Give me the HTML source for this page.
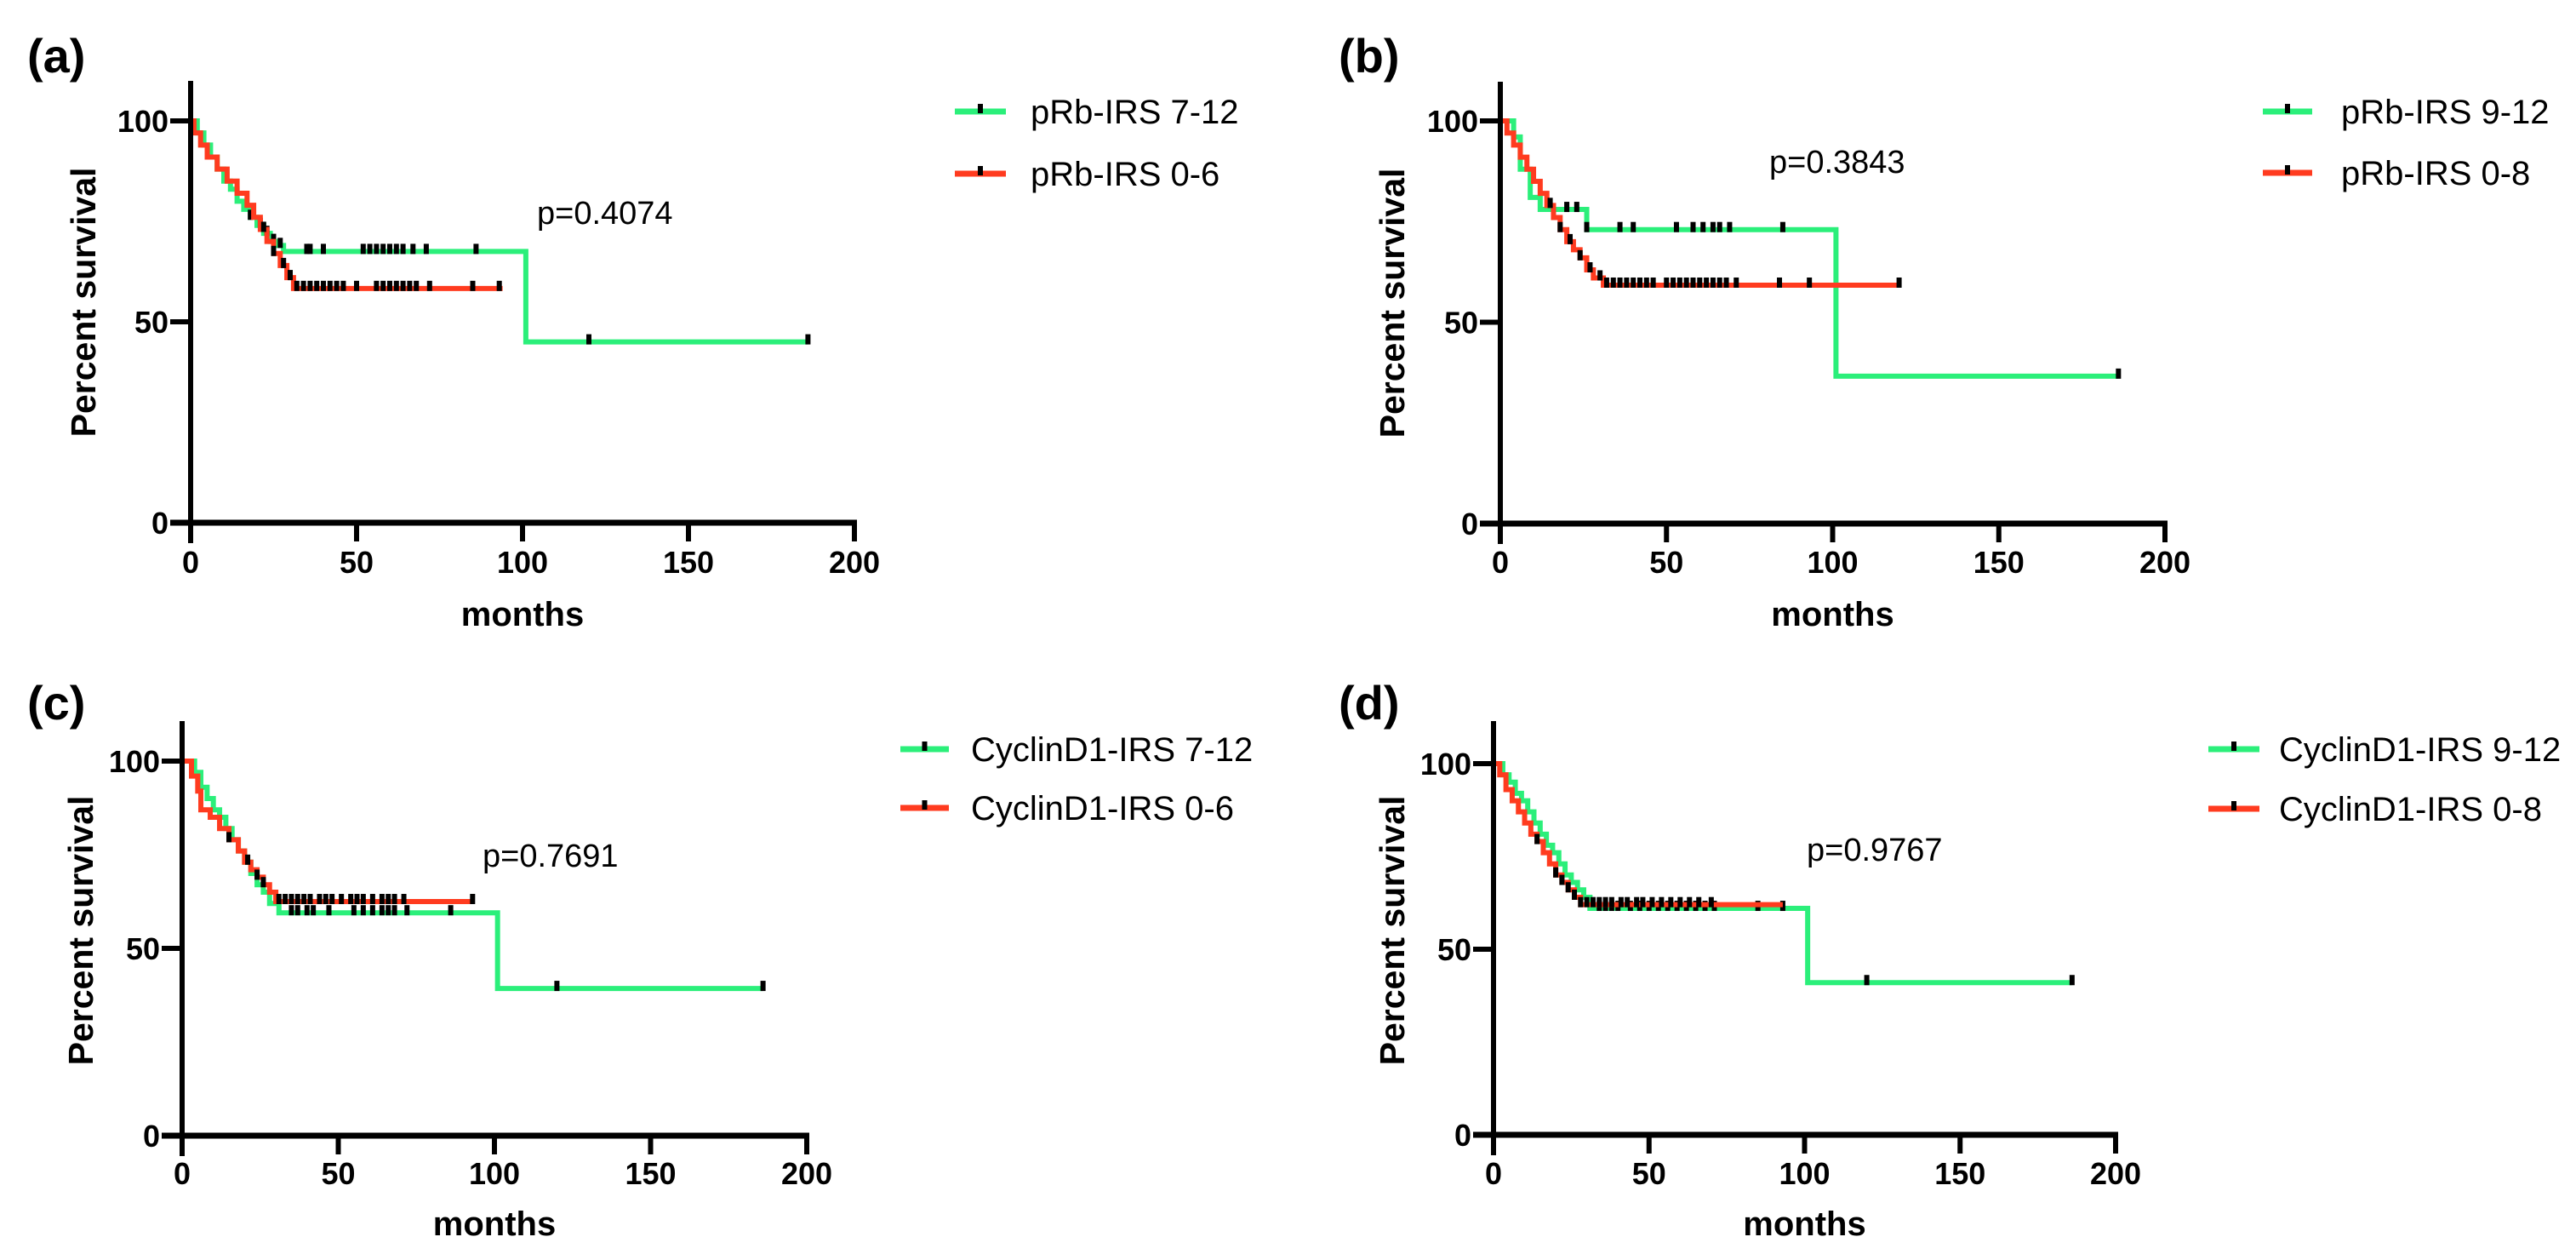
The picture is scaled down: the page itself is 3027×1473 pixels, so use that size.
<!DOCTYPE html>
<html><head><meta charset="utf-8">
<style>
html,body{margin:0;padding:0;background:#fff;}
svg{display:block;font-family:"Liberation Sans",sans-serif;}
</style></head>
<body>
<svg id="fig" width="3027" height="1473" viewBox="0 0 3027 1473" xmlns="http://www.w3.org/2000/svg"></svg>
<script>
// ---------- data ----------
const xTicks = [0, 50, 100, 150, 200];
const yTicks = [0, 50, 100];
const panelLetters = ['(a)', '(b)', '(c)', '(d)'];
const pValues = ['p=0.4074', 'p=0.3843', 'p=0.7691', 'p=0.9767'];
const legendHigh = ['pRb-IRS 7-12', 'pRb-IRS 9-12', 'CyclinD1-IRS 7-12', 'CyclinD1-IRS 9-12'];
const legendLow = ['pRb-IRS 0-6', 'pRb-IRS 0-8', 'CyclinD1-IRS 0-6', 'CyclinD1-IRS 0-8'];

// panel a
const aGreenT = [0, 2, 4, 6, 8, 10, 12, 14, 16, 18, 20, 22, 24, 26, 28, 101];
const aGreenS = [100, 97, 94, 91, 88, 85, 83, 80, 78, 76, 74, 72, 70, 69, 67.5, 45];
const aGreenEnd = 186;
const aGreenCensT = [18, 21, 23, 25, 27, 35, 36, 40, 52, 54, 56, 58, 60, 62, 64, 67, 71, 86, 120, 186];
const aRedT = [0, 1, 3, 5, 8, 11, 14, 17, 19, 21, 23, 25, 27, 29, 31];
const aRedS = [100, 97, 94, 91, 88, 85, 82, 79, 76, 73, 70, 67, 64, 61, 58.3];
const aRedEnd = 94;
const aRedCensT = [22, 25, 28, 30, 32, 34, 36, 38, 40, 42, 44, 46, 50, 56, 58, 60, 62, 64, 66, 68, 72, 85, 93];

// panel b
const bGreenT = [0, 4, 6, 9, 12, 26, 101];
const bGreenS = [100, 96, 88, 81, 78, 73, 36.6];
const bGreenEnd = 186;
const bGreenCensT = [20, 23, 26, 36, 40, 53, 58, 61, 64, 66, 69, 85, 186];
const bRedT = [0, 2, 4, 6, 8, 10, 12, 14, 16, 18, 20, 22, 24, 26, 28, 31];
const bRedS = [100, 97, 94, 91, 88, 85, 82, 79, 76, 73, 70, 68, 66, 63, 61, 59.2];
const bRedEnd = 120;
const bRedCensT = [15, 18, 21, 24, 27, 30, 32, 34, 36, 38, 40, 42, 44, 46, 50, 52, 54, 56, 58, 60, 62, 64, 66, 68, 71, 84, 93, 120];

// panel c
const cGreenT = [0, 4, 6, 8, 10, 12, 14, 16, 18, 20, 22, 24, 26, 28, 31, 101];
const cGreenS = [100, 97, 93, 90, 87, 85, 82, 79, 76, 73, 70, 67, 65, 62, 59.5, 39.3];
const cGreenEnd = 186;
const cGreenCensT = [35, 37, 40, 42, 47, 55, 58, 61, 64, 66, 68, 72, 86, 120, 186];
const cRedT = [0, 3, 5, 6, 9, 12, 15, 18, 20, 22, 24, 26, 28, 30];
const cRedS = [100, 96, 92, 87, 85, 82, 79, 76, 73, 71, 69, 67, 65, 62.5];
const cRedEnd = 93;
const cRedCensT = [15, 21, 24, 26, 31, 33, 35, 37, 39, 41, 44, 46, 48, 51, 54, 56, 58, 61, 64, 66, 68, 71, 93];

// panel d
const dGreenT = [0, 3, 5, 7, 9, 11, 13, 15, 17, 19, 21, 23, 25, 27, 29, 31, 101];
const dGreenS = [100, 97, 95, 92, 90, 87, 84, 81, 78, 76, 73, 70, 68, 66, 64, 61, 41];
const dGreenEnd = 186;
const dGreenCensT = [34, 36, 38, 40, 44, 47, 50, 53, 56, 59, 62, 65, 68, 71, 85, 93, 120, 186];
const dRedT = [0, 2, 4, 6, 8, 10, 12, 14, 16, 18, 20, 22, 24, 26, 28];
const dRedS = [100, 97, 93, 90, 87, 84, 81, 79, 76, 73, 70, 68, 66, 64, 62];
const dRedEnd = 93;
const dRedCensT = [14, 20, 22, 24, 26, 28, 30, 32, 34, 36, 38, 41, 43, 46, 48, 51, 54, 57, 60, 63, 66, 70];

// ---------- layout (pixels) ----------
const layout = [
  {ox:224, x200:1004, y100:142, y0:614, top:95, tickY:660, monthsY:723, ylabX:98, ylabY:355, letterX:32, letterY:66, pX:631, pY:263, legX1:1122, legX2:1182, legY1:131, legY2:204, legT:1211},
  {ox:1763, x200:2544, y100:142, y0:615, top:96, tickY:660, monthsY:723, ylabX:1636, ylabY:356, letterX:1573, letterY:66, pX:2079, pY:203, legX1:2659, legX2:2717, legY1:131, legY2:203, legT:2751},
  {ox:214, x200:948, y100:894, y0:1334, top:847, tickY:1378, monthsY:1439, ylabX:95, ylabY:1093, letterX:32, letterY:826, pX:567, pY:1018, legX1:1058, legX2:1115, legY1:880, legY2:949, legT:1141},
  {ox:1755, x200:2486, y100:897, y0:1333, top:847, tickY:1378, monthsY:1439, ylabX:1636, ylabY:1093, letterX:1573, letterY:826, pX:2123, pY:1011, legX1:2595, legX2:2655, legY1:880, legY2:950, legT:2678}
];
const series = [
  [[aGreenT,aGreenS,aGreenEnd,aGreenCensT],[aRedT,aRedS,aRedEnd,aRedCensT]],
  [[bGreenT,bGreenS,bGreenEnd,bGreenCensT],[bRedT,bRedS,bRedEnd,bRedCensT]],
  [[cGreenT,cGreenS,cGreenEnd,cGreenCensT],[cRedT,cRedS,cRedEnd,cRedCensT]],
  [[dGreenT,dGreenS,dGreenEnd,dGreenCensT],[dRedT,dRedS,dRedEnd,dRedCensT]]
];
const GREEN = '#2bef7a', RED = '#ff3b1f';
const NS = 'http://www.w3.org/2000/svg';
const svg = document.getElementById('fig');

function mk(tag, attrs, parent){
  const e = document.createElementNS(NS, tag);
  for (const k in attrs) e.setAttribute(k, attrs[k]);
  parent.appendChild(e);
  return e;
}
function survAt(T,S,t){ let s=S[0]; for(let i=0;i<T.length;i++){ if(T[i]<=t) s=S[i]; } return s; }

layout.forEach((L, p) => {
  const g = mk('g', {}, svg);
  
  
  const xs = v => L.ox + (L.x200 - L.ox) * v / 200;
  const ys = v => L.y0 - (L.y0 - L.y100) * v / 100;

  const letter = mk('text', {x:L.letterX, y:L.letterY+19, 'font-size':56, 'font-weight':'bold', fill:'#000'}, g);
  letter.textContent = panelLetters[p];
  
  

  // series
  series[p].forEach((sr, si) => {
    const [T,S,end,C] = sr;
    let d = 'M' + xs(T[0]) + ',' + ys(S[0]);
    for (let i=1;i<T.length;i++){ d += 'H' + xs(T[i]) + 'V' + ys(S[i]); }
    d += 'H' + xs(end);
    const path = mk('path', {d:d, fill:'none', stroke: si===0?GREEN:RED, 'stroke-width':6, 'stroke-linejoin':'miter'}, g);
    
    
    C.forEach(t => {
      const cy = ys(survAt(T,S,t));
      const m = mk('rect', {x:xs(t)-3, y:cy-9, width:6, height:12, fill:'#000'}, g);
      
      
    });
  });

  // axes
  const yAxis = mk('line', {x1:L.ox, y1:L.top, x2:L.ox, y2:L.y0+24, stroke:'#000', 'stroke-width':6}, g);
  
  
  const xAxis = mk('line', {x1:L.ox-24, y1:L.y0, x2:L.x200+3, y2:L.y0, stroke:'#000', 'stroke-width':7}, g);
  
  
  yTicks.forEach(v => {
    const tk = mk('line', {x1:L.ox-24, y1:ys(v), x2:L.ox, y2:ys(v), stroke:'#000', 'stroke-width':6}, g);
    
    
    const tl = mk('text', {x:L.ox-26, y:ys(v)+13, 'font-size':36, 'font-weight':'bold', 'text-anchor':'end', fill:'#000'}, g);
    tl.textContent = v;
    
    
  });
  xTicks.forEach(v => {
    const tk = mk('line', {x1:xs(v), y1:L.y0, x2:xs(v), y2:L.y0+22, stroke:'#000', 'stroke-width':6}, g);
    
    
    const tl = mk('text', {x:xs(v), y:L.tickY+13, 'font-size':36, 'font-weight':'bold', 'text-anchor':'middle', fill:'#000'}, g);
    tl.textContent = v;
    
    
  });
  const mt = mk('text', {x:(L.ox+L.x200)/2, y:L.monthsY+12, 'font-size':40, 'font-weight':'bold', 'text-anchor':'middle', fill:'#000'}, g);
  mt.textContent = 'months';
  
  
  const yt = mk('text', {x:0, y:0, 'font-size':41, 'font-weight':'bold', 'text-anchor':'middle', fill:'#000', transform:'translate('+(L.ylabX+14)+','+L.ylabY+') rotate(-90)'}, g);
  yt.textContent = 'Percent survival';
  
  

  const pt = mk('text', {x:L.pX, y:L.pY, 'font-size':38, fill:'#000'}, g);
  pt.textContent = pValues[p];
  
  

  [[L.legY1, GREEN, legendHigh[p]], [L.legY2, RED, legendLow[p]]].forEach((e, i) => {
    const lg = mk('g', {}, g);
    
    
    mk('line', {x1:L.legX1, y1:e[0], x2:L.legX2, y2:e[0], stroke:e[1], 'stroke-width':7}, lg);
    mk('rect', {x:(L.legX1+L.legX2)/2-3, y:e[0]-9, width:6, height:11, fill:'#000'}, lg);
    const t = mk('text', {x:L.legT, y:e[0]+14, 'font-size':40, fill:'#000'}, lg);
    t.textContent = e[2];
  });
});
</script>
</body></html>
